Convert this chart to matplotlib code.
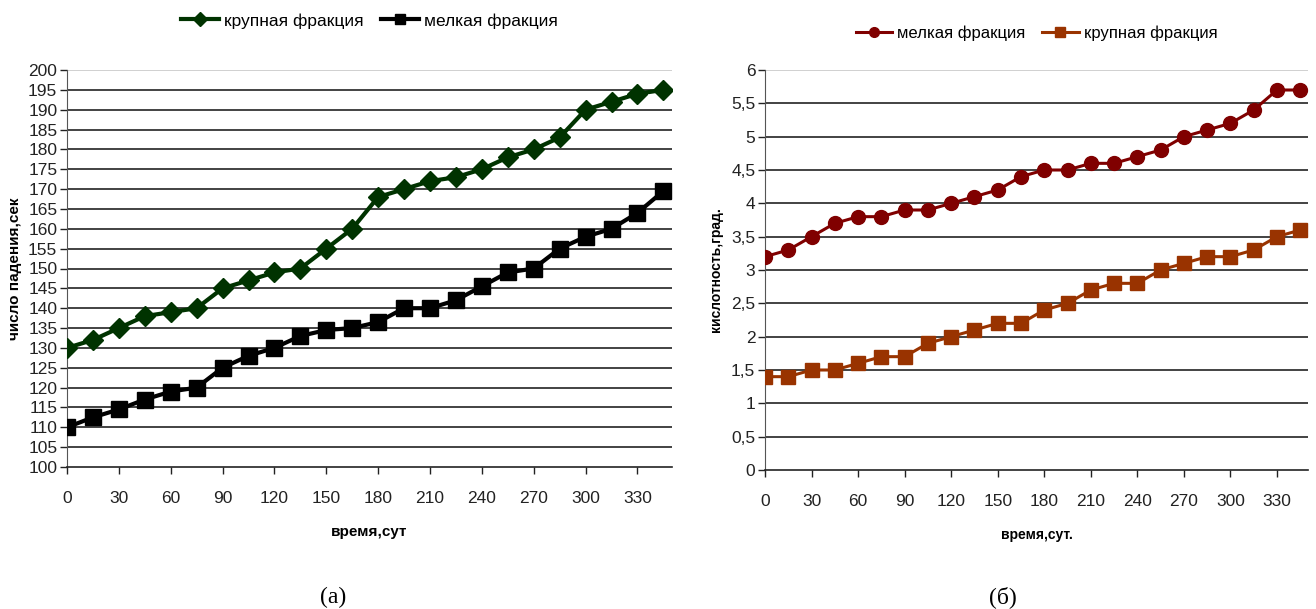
import matplotlib.pyplot as plt

days = [0, 15, 30, 45, 60, 75, 90, 105, 120, 135, 150, 165,
        180, 195, 210, 225, 240, 255, 270, 285, 300, 315, 330, 345]

# (а) число падения
fall_coarse = [130, 132, 135, 138, 139, 140, 145, 147, 149, 150, 155, 160,
               168, 170, 172, 173, 175, 178, 180, 183, 190, 192, 194, 195]
fall_fine = [110, 112.5, 114.5, 117, 119, 120, 125, 128, 130, 133, 134.5, 135,
             136.5, 140, 140, 142, 145.5, 149, 150, 155, 158, 160, 164, 169.5]

# (б) кислотность
acid_fine = [3.2, 3.3, 3.5, 3.7, 3.8, 3.8, 3.9, 3.9, 4.0, 4.1, 4.2, 4.4,
             4.5, 4.5, 4.6, 4.6, 4.7, 4.8, 5.0, 5.1, 5.2, 5.4, 5.7, 5.7]
acid_coarse = [1.4, 1.4, 1.5, 1.5, 1.6, 1.7, 1.7, 1.9, 2.0, 2.1, 2.2, 2.2,
               2.4, 2.5, 2.7, 2.8, 2.8, 3.0, 3.1, 3.2, 3.2, 3.3, 3.5, 3.6]

xticks = list(range(0, 331, 30))
left_yticks = list(range(100, 201, 5))
right_yticks = [0, 0.5, 1, 1.5, 2, 2.5, 3, 3.5, 4, 4.5, 5, 5.5, 6]
right_ylabels = [f"{v:g}".replace(".", ",") for v in right_yticks]

plt.rcParams['font.family'] = ['Liberation Sans Narrow', 'Liberation Sans', 'DejaVu Sans']

fig = plt.figure(figsize=(13.16, 6.09), dpi=100)
W, H = 1316, 609


def style_axes(ax, yticks, ylabels, ymin, ymax):
    ax.set_xlim(0, 350)
    ax.set_ylim(ymin, ymax)
    ax.set_xticks(xticks)
    ax.set_yticks(yticks)
    ax.set_yticklabels(ylabels)
    ax.tick_params(axis='both', labelsize=12.5, colors='#222222', direction='out',
                   length=5, width=1)
    ax.tick_params(axis='x', pad=12)
    ax.tick_params(axis='y', pad=2)
    for t in yticks[1:-1]:
        ax.axhline(t, color='#222222', lw=1.2, zorder=1)
    ax.axhline(yticks[-1], color='#c8c8c8', lw=1.2, zorder=1)
    for s in ['top', 'right']:
        ax.spines[s].set_visible(False)
    ax.spines['left'].set_color('#555555')
    ax.spines['bottom'].set_color('#222222')
    ax.spines['bottom'].set_linewidth(1.2)


# left chart
ax1 = fig.add_axes([67 / W, 1 - 467 / H, (672 - 67) / W, (467 - 70) / H])
ax1.plot(days, fall_coarse, color='#003300', lw=3, marker='D', ms=10.5,
         label='крупная фракция', zorder=3)
ax1.plot(days, fall_fine, color='black', lw=3, marker='s', ms=12,
         label='мелкая фракция', zorder=3)
style_axes(ax1, left_yticks, [str(v) for v in left_yticks], 100, 200)
ax1.set_ylabel('число падения,сек', fontsize=11, fontweight='bold',
               family=['Liberation Sans', 'DejaVu Sans'], labelpad=4)
ax1.set_xlabel('время,сут', fontsize=11, fontweight='bold',
               family=['Liberation Sans', 'DejaVu Sans'], labelpad=14)
ax1.legend(loc='lower center', bbox_to_anchor=(0.5, 1.065), ncol=2, frameon=False,
           fontsize=12.5, handlelength=2.2, columnspacing=1.0, handletextpad=0.3,
           markerscale=0.65)

# right chart
ax2 = fig.add_axes([765 / W, 1 - 470 / H, (1308 - 765) / W, (470 - 70) / H])
ax2.plot(days, acid_fine, color='#800000', lw=2.2, marker='o', ms=10,
         label='мелкая фракция', zorder=3)
ax2.plot(days, acid_coarse, color='#993300', lw=2.2, marker='s', ms=10,
         label='крупная фракция', zorder=3)
style_axes(ax2, right_yticks, right_ylabels, 0, 6)
ax2.set_ylabel('кислотность,град.', fontsize=10, fontweight='bold',
               family=['Liberation Sans', 'DejaVu Sans'], labelpad=6)
ax2.set_xlabel('время,сут.', fontsize=10, fontweight='bold',
               family=['Liberation Sans', 'DejaVu Sans'], labelpad=14)
ax2.legend(loc='lower center', bbox_to_anchor=(0.5, 1.035), ncol=2, frameon=False,
           fontsize=12, handlelength=2.2, columnspacing=1.0, handletextpad=0.3,
           markerscale=0.7)

fig.text(333 / W, 1 - 597 / H, '(а)', ha='center', va='center', fontsize=17,
         family=['Liberation Serif', 'DejaVu Serif'])
fig.text(1003 / W, 1 - 597 / H, '(б)', ha='center', va='center', fontsize=17,
         family=['Liberation Serif', 'DejaVu Serif'])

fig.savefig('out.png', dpi=100)
